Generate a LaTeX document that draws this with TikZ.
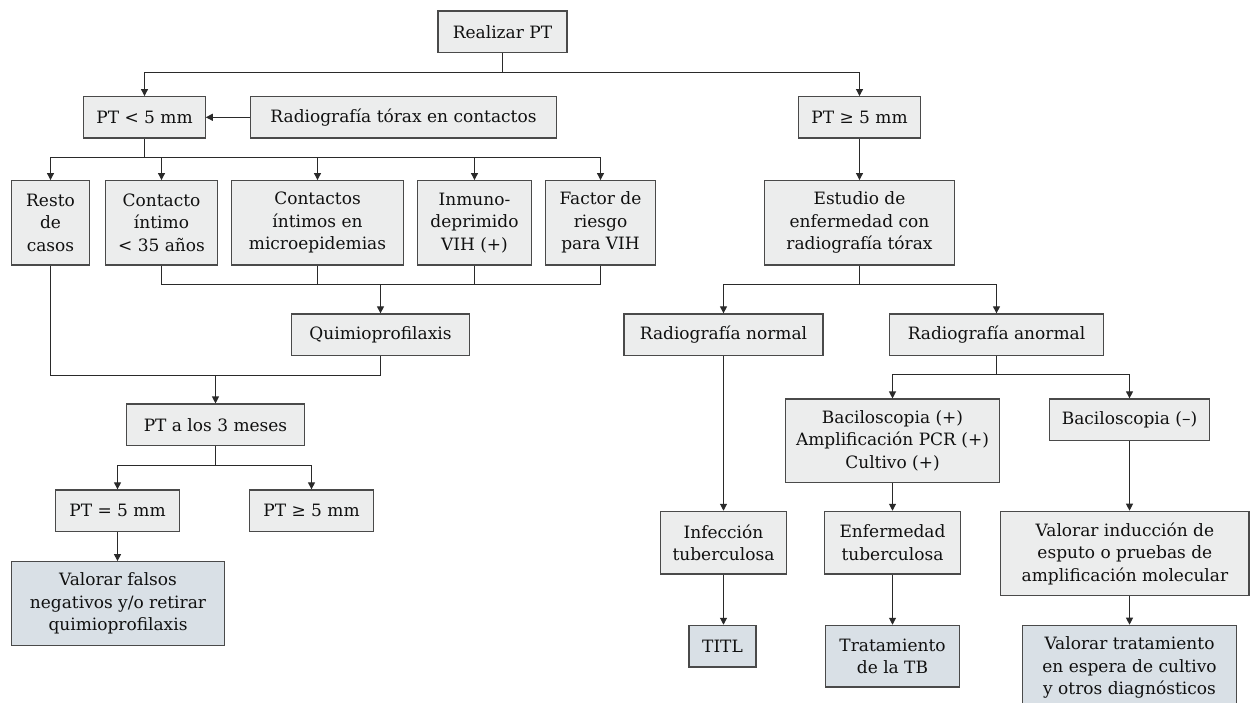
\documentclass[tikz,border=0pt]{standalone}
\usepackage{fontspec}
\setmainfont{DejaVu Serif}
\usetikzlibrary{arrows.meta}
\definecolor{boxfill}{HTML}{ECEDED}
\definecolor{outfill}{HTML}{D9E0E6}
\definecolor{boxline}{HTML}{4A4A4A}
\definecolor{conn}{HTML}{2A2A2A}
\definecolor{txt}{HTML}{101010}
\begin{document}
\begin{tikzpicture}[x=1pt,y=-1pt,
  box/.style={draw=boxline, fill=boxfill, line width=1.2pt, align=center, inner sep=0pt,
    text=txt, font=\fontsize{17}{22.5}\selectfont},
  outbox/.style={box, fill=outfill},
  conline/.style={draw=conn, line width=1.1pt},
  arr/.style={conline, -{Triangle[width=7pt,length=7pt]}}]
\useasboundingbox (0,0) rectangle (1250,703);
\begin{scope}
\clip (0,0) rectangle (1250,703);
% row 0
\node[box, minimum width=129pt, minimum height=41.7pt] (realizar) at (502.5,31.8) {Realizar PT};
% row 1
\node[box, minimum width=121.4pt, minimum height=41.3pt] (ptless) at (144.5,117.3) {PT < 5 mm};
\node[box, minimum width=305.6pt, minimum height=41.3pt] (radcont) at (403.5,117.3) {Radiografía tórax en contactos};
\node[box, minimum width=121.4pt, minimum height=41.3pt] (ptge) at (859.5,117.3) {PT ≥ 5 mm};
% row 2
\node[box, minimum width=78.3pt, minimum height=84.3pt] (resto) at (50.5,222.8) {Resto\\de\\casos};
\node[box, minimum width=112.3pt, minimum height=84.3pt] (contacto) at (161.5,222.8) {Contacto\\íntimo\\< 35 años};
\node[box, minimum width=172.4pt, minimum height=84.3pt] (contactos) at (317.5,222.8) {Contactos\\íntimos en\\microepidemias};
\node[box, minimum width=113.3pt, minimum height=84.3pt] (inmuno) at (474.5,222.8) {Inmuno-\\deprimido\\VIH (+)};
\node[box, minimum width=110.4pt, minimum height=84.3pt] (factor) at (600.5,222.8) {Factor de\\riesgo\\para VIH};
\node[box, minimum width=189.3pt, minimum height=84.3pt] (estudio) at (859.5,222.8) {Estudio de\\enfermedad con\\radiografía tórax};
% row 3
\node[box, minimum width=177.6pt, minimum height=41.7pt] (quimio) at (380.5,334.8) {Quimioprofilaxis};
\node[box, minimum width=199pt, minimum height=41.7pt] (radnormal) at (723.5,334.8) {Radiografía normal};
\node[box, minimum width=214.7pt, minimum height=41.7pt] (radanormal) at (996.5,334.8) {Radiografía anormal};
% row 4
\node[box, minimum width=177.3pt, minimum height=41.3pt] (pt3) at (215.5,424.7) {PT a los 3 meses};
\node[box, minimum width=213.6pt, minimum height=83.3pt] (bacpos) at (892.5,440.7) {Baciloscopia (+)\\Amplificación PCR (+)\\Cultivo (+)};
\node[box, minimum width=160pt, minimum height=41.7pt] (bacneg) at (1129.5,419.8) {Baciloscopia (–)};
% row 5
\node[box, minimum width=123.3pt, minimum height=41.7pt] (pteq) at (117.5,510.8) {PT = 5 mm};
\node[box, minimum width=123.6pt, minimum height=41.7pt] (ptge2) at (311.5,510.8) {PT ≥ 5 mm};
\node[box, minimum width=126.3pt, minimum height=62.7pt] (infeccion) at (723.5,542.7) {Infección\\tuberculosa};
\node[box, minimum width=136.4pt, minimum height=62.7pt] (enfermedad) at (892.5,542.7) {Enfermedad\\tuberculosa};
\node[box, minimum width=248.3pt, minimum height=84.4pt] (valinduccion) at (1124.9,553.5) {Valorar inducción de\\esputo o pruebas de\\amplificación molecular};
% row 6
\node[outbox, minimum width=213.4pt, minimum height=83.6pt] (valfalsos) at (118,603.5) {Valorar falsos\\negativos y/o retirar\\quimioprofilaxis};
\node[outbox, minimum width=67pt, minimum height=41.7pt] (titl) at (722.5,646.2) {TITL};
\node[outbox, minimum width=133.3pt, minimum height=61.7pt] (tratamiento) at (892.5,656.2) {Tratamiento\\de la TB};
\node[outbox, minimum width=213.3pt, minimum height=84.4pt] (valtrat) at (1129.5,667.5) {Valorar tratamiento\\en espera de cultivo\\y otros diagnósticos};

% connectors
\coordinate (j1) at (502.5,72.5);
\draw[conline] (realizar.south) -- (j1);
\draw[arr] (j1) -| (ptless.north);
\draw[arr] (j1) -| (ptge.north);
\draw[arr] (radcont.west) -- (ptless.east);

\coordinate (j2) at (144.5,157.5);
\draw[conline] (ptless.south) -- (j2);
\draw[arr] (j2) -| (resto.north);
\draw[arr] (j2) -| (contacto.north);
\draw[arr] (j2) -| (contactos.north);
\draw[arr] (j2) -| (inmuno.north);
\draw[arr] (j2) -| (factor.north);

\draw[arr] (ptge.south) -- (ptge.south |- estudio.north);

\coordinate (j3) at (380.5,284.5);
\draw[conline] (contacto.south) |- (j3);
\draw[conline] (factor.south) |- (j3);
\draw[conline] (contactos.south) -- (contactos.south |- j3);
\draw[conline] (inmuno.south) -- (inmuno.south |- j3);
\draw[arr] (j3) -- (quimio.north);

\coordinate (j4) at (215.5,375.5);
\draw[conline] (resto.south) |- (j4);
\draw[conline] (quimio.south) |- (j4);
\draw[arr] (j4) -- (pt3.north);

\coordinate (j5) at (215.5,465.5);
\draw[conline] (pt3.south) -- (j5);
\draw[arr] (j5) -| (pteq.north);
\draw[arr] (j5) -| (ptge2.north);
\draw[arr] (pteq.south) -- (pteq.south |- valfalsos.north);

\coordinate (j6) at (859.5,284.5);
\draw[conline] (estudio.south) -- (j6);
\draw[arr] (j6) -| (radnormal.north);
\draw[arr] (j6) -| (radanormal.north);

\draw[arr] (radnormal.south) -- (radnormal.south |- infeccion.north);
\draw[arr] (infeccion.south) -- (infeccion.south |- titl.north);

\coordinate (j7) at (996.5,374.5);
\draw[conline] (radanormal.south) -- (j7);
\draw[arr] (j7) -| (bacpos.north);
\draw[arr] (j7) -| (bacneg.north);

\draw[arr] (bacpos.south) -- (enfermedad.north);
\draw[arr] (enfermedad.south) -- (tratamiento.north);
\draw[arr] (bacneg.south) -- (bacneg.south |- valinduccion.north);
\draw[arr] (bacneg.south |- valinduccion.south) -- (valtrat.north);
\end{scope}
\end{tikzpicture}
\end{document}
